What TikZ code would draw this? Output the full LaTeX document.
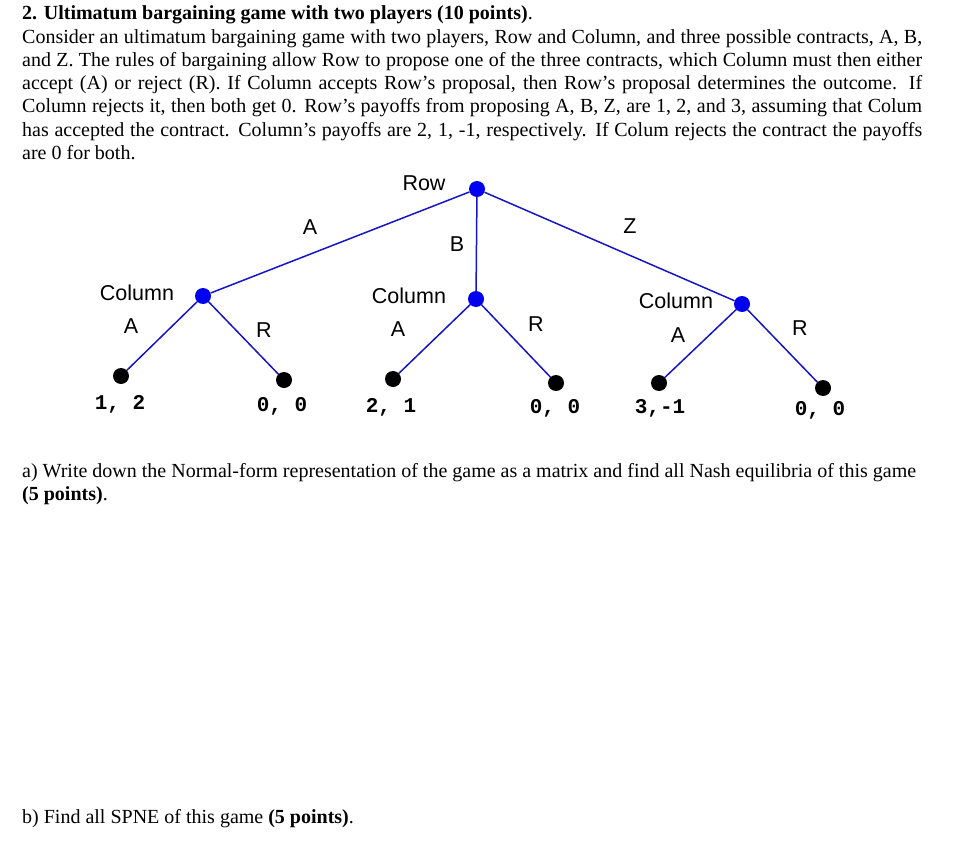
\documentclass[tikz,border=0pt]{standalone}
\usepackage{fontspec}
\setmainfont{Liberation Serif}
\newfontfamily\arialf{Liberation Sans}
\newfontfamily\monof{Liberation Mono}
\begin{document}
\begin{tikzpicture}[x=1pt,y=-1pt,
  txt/.style={anchor=base west,inner sep=0pt,font=\fontsize{20}{23}\selectfont},
  lab/.style={inner sep=0pt,font=\arialf\fontsize{21.5}{24}\selectfont},
  pay/.style={inner sep=0pt,font=\monof\bfseries\fontsize{21}{24}\selectfont},
  dec/.style={circle,fill={rgb,255:red,0;green,0;blue,240},minimum size=16pt,inner sep=0pt},
  leaf/.style={circle,fill=black,minimum size=16pt,inner sep=0pt},
  br/.style={draw={rgb,255:red,20;green,20;blue,200},line width=1.5pt}]
\useasboundingbox (0,0) rectangle (979,848);
\newcommand\jline[1]{\parbox[b]{900pt}{\parfillskip=0pt #1\par}}
\node[txt] (t0) at (22,20) {\textbf{2. Ultimatum bargaining game with two players (10 points)}.};
\node[txt] (t1) at (22,44) {\jline{Consider an ultimatum bargaining game with two players, Row and Column, and three possible contracts, A, B,}};
\node[txt] (t2) at (22,67) {\jline{and Z. The rules of bargaining allow Row to propose one of the three contracts, which Column must then either}};
\node[txt] (t3) at (22,90) {\jline{accept (A) or reject (R). If Column accepts Row's proposal, then Row's proposal determines the outcome. If}};
\node[txt] (t4) at (22,113) {\jline{Column rejects it, then both get 0. Row's payoffs from proposing A, B, Z, are 1, 2, and 3, assuming that Colum}};
\node[txt] (t5) at (22,136) {\jline{has accepted the contract. Column's payoffs are 2, 1, -1, respectively. If Colum rejects the contract the payoffs}};
\node[txt] (t6) at (22,159) {are 0 for both.};

\node[dec] (r) at (477,189) {};
\node[dec] (c1) at (203,296) {};
\node[dec] (c2) at (476,299) {};
\node[dec] (c3) at (742,304) {};
\node[leaf] (l1) at (121,376) {};
\node[leaf] (l2) at (284,380) {};
\node[leaf] (l3) at (393,379) {};
\node[leaf] (l4) at (556,383) {};
\node[leaf] (l5) at (659,383) {};
\node[leaf] (l6) at (823,388) {};
\draw[br] (r)--(c1); \draw[br] (r)--(c2); \draw[br] (r)--(c3);
\draw[br] (c1)--(l1); \draw[br] (c1)--(l2);
\draw[br] (c2)--(l3); \draw[br] (c2)--(l4);
\draw[br] (c3)--(l5); \draw[br] (c3)--(l6);

\node[lab] (nr) at (424,183) {Row};
\node[lab] (na) at (310,227) {A};
\node[lab] (nb) at (457,244) {B};
\node[lab] (nz) at (630,226) {Z};
\node[lab] (k1) at (137,293) {Column};
\node[lab] (a1) at (131,326) {A};
\node[lab] (r1) at (264,330) {R};
\node[lab] (k2) at (409,296) {Column};
\node[lab] (a2) at (398,329) {A};
\node[lab] (r2) at (536,324) {R};
\node[lab] (k3) at (676,301) {Column};
\node[lab] (a3) at (678,335) {A};
\node[lab] (r3) at (800,328) {R};

\node[pay] (p1) at (120,404) {1, 2};
\node[pay] (p2) at (282,406) {0, 0};
\node[pay] (p3) at (391,407) {2, 1};
\node[pay] (p4) at (555,408) {0, 0};
\node[pay] (p5) at (660,408) {3,-1};
\node[pay] (p6) at (820,410) {0, 0};

\node[txt] (qa) at (22,477) {a) Write down the Normal-form representation of the game as a matrix and find all Nash equilibria of this game};
\node[txt] (qa2) at (22,500) {\textbf{(5 points)}.};
\node[txt] (qb) at (22,823) {b) Find all SPNE of this game \textbf{(5 points)}.};
\end{tikzpicture}
\end{document}
